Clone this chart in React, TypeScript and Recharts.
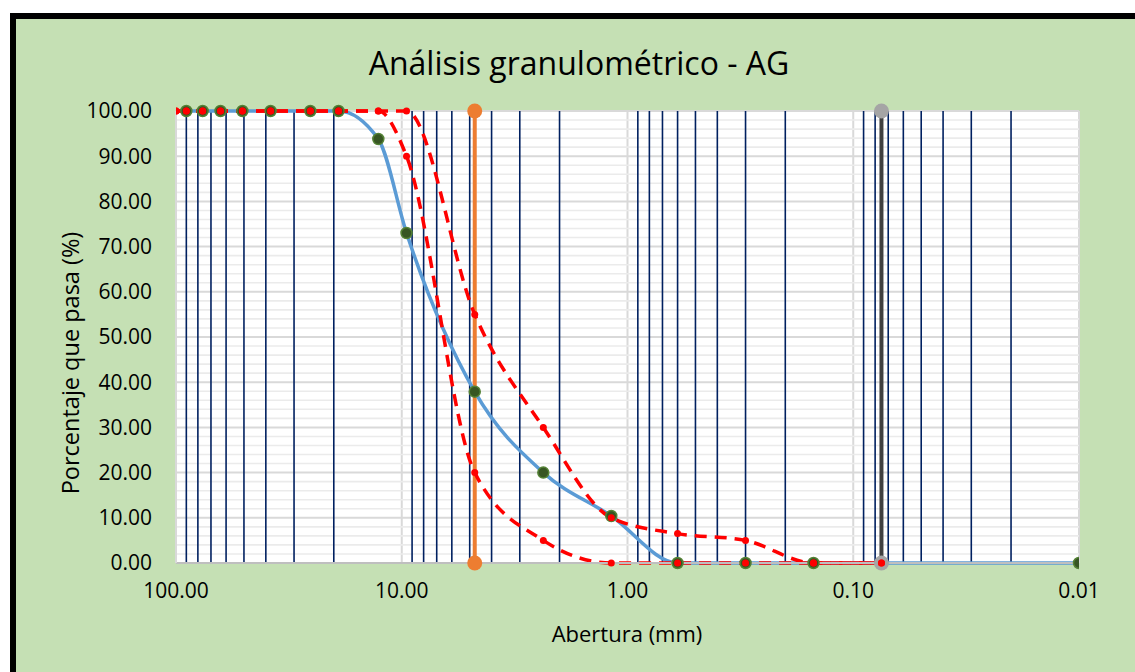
import React from 'react'
import { LineChart, Line, XAxis, YAxis, CartesianGrid, ReferenceLine } from 'recharts'

// muestra (% que pasa)
const sampleSizes = [90, 76.2, 63.5, 50.8, 38.1, 25.4, 19.05, 12.7, 9.525, 4.75, 2.36, 1.18, 0.6, 0.3, 0.15, 0.01]
const samplePassing = [100, 100, 100, 100, 100, 100, 100, 93.8, 73.0, 37.9, 20.0, 10.4, 0, 0, 0, 0]

// limites del huso
const limitSizes = [100, 90, 76.2, 63.5, 50.8, 38.1, 25.4, 19.05, 12.7, 9.525, 4.75, 2.36, 1.18, 0.6, 0.3, 0.15, 0.075]
const upperLimit = [100, 100, 100, 100, 100, 100, 100, 100, 100, 100, 55, 30, 10, 6.5, 5, 0, 0]
const lowerLimit = [100, 100, 100, 100, 100, 100, 100, 100, 100, 90, 20, 5, 0, 0, 0, 0, 0]

// tamiz No. 4 y No. 200
const sieve4 = 4.75
const sieve200 = 0.075
const markerLevels = [0, 100]

const xTicks = [100, 10, 1, 0.1, 0.01]
const yTicks = [0, 10, 20, 30, 40, 50, 60, 70, 80, 90, 100]
const minorX = [90, 80, 70, 60, 50, 40, 30, 20, 9, 8, 7, 6, 5, 4, 3, 2, 0.9, 0.8, 0.7, 0.6, 0.5, 0.4, 0.3, 0.2,
  0.09, 0.08, 0.07, 0.06, 0.05, 0.04, 0.03, 0.02]
const minorY = [2, 4, 6, 8, 12, 14, 16, 18, 22, 24, 26, 28, 32, 34, 36, 38, 42, 44, 46, 48, 52, 54, 56, 58,
  62, 64, 66, 68, 72, 74, 76, 78, 82, 84, 86, 88, 92, 94, 96, 98]

const sample = sampleSizes.map((x, i) => ({ x, y: samplePassing[i] }))
const upper = limitSizes.map((x, i) => ({ x, y: upperLimit[i] }))
const lower = limitSizes.map((x, i) => ({ x, y: lowerLimit[i] }))
const line4 = markerLevels.map((y) => ({ x: sieve4, y }))
const line200 = markerLevels.map((y) => ({ x: sieve200, y }))

const font = '"Open Sans", sans-serif'
const tickStyle = { fontSize: 21, fill: '#000', fontFamily: font }

export default function App() {
  return (
    <div style={{ position: 'absolute', left: 0, top: 0, width: 1135, height: 672, overflow: 'hidden', background: '#fff', fontFamily: font }}>
      <div style={{ position: 'absolute', left: 10, top: 13, width: 1200, height: 720, border: '6px solid #000', background: '#C5E0B4' }} />
      <div style={{ position: 'absolute', left: 0, top: 0 }}>
        <LineChart width={1135} height={672} margin={{ top: 111, right: 56, bottom: 59, left: 76 }}>
          <CartesianGrid fill="#fff" stroke="#D9D9D9" strokeWidth={2} />
          {minorY.map((v) => (
            <ReferenceLine key={'h' + v} y={v} stroke="#EBEBEB" strokeWidth={1.6} />
          ))}
          {minorX.map((v) => (
            <ReferenceLine key={'v' + v} x={v} stroke="#002060" strokeWidth={1.6} />
          ))}
          <XAxis
            dataKey="x"
            type="number"
            scale="log"
            domain={[0.01, 100]}
            ticks={xTicks}
            reversed
            allowDataOverflow
            height={50}
            tickLine={false}
            tickMargin={14}
            axisLine={{ stroke: '#BFBFBF', strokeWidth: 2 }}
            tick={tickStyle}
            tickFormatter={(v) => Number(v).toFixed(2)}
          />
          <YAxis
            dataKey="y"
            type="number"
            domain={[0, 100]}
            ticks={yTicks}
            width={100}
            tickLine={false}
            tickMargin={18}
            axisLine={{ stroke: '#D9D9D9', strokeWidth: 2 }}
            tick={tickStyle}
            tickFormatter={(v) => Number(v).toFixed(2)}
          />
          <Line data={line4} dataKey="y" type="linear" stroke="#ED7D31" strokeWidth={4}
            dot={{ r: 7.5, fill: '#ED7D31', stroke: 'none' }} isAnimationActive={false} />
          <Line data={line200} dataKey="y" type="linear" stroke="#404040" strokeWidth={4}
            dot={{ r: 7.5, fill: '#A5A5A5', stroke: 'none' }} isAnimationActive={false} />
          <Line data={sample} dataKey="y" type="monotone" stroke="#5B9BD5" strokeWidth={3.5}
            dot={{ r: 5.5, fill: '#375623', stroke: '#548235', strokeWidth: 1.5 }} isAnimationActive={false} />
          <Line data={upper} dataKey="y" type="monotone" stroke="#FF0000" strokeWidth={3.5} strokeDasharray="12 8"
            dot={{ r: 3.5, fill: '#FF0000', stroke: 'none', strokeDasharray: '' }} isAnimationActive={false} />
          <Line data={lower} dataKey="y" type="monotone" stroke="#FF0000" strokeWidth={3.5} strokeDasharray="12 8"
            dot={{ r: 3.5, fill: '#FF0000', stroke: 'none', strokeDasharray: '' }} isAnimationActive={false} />
        </LineChart>
      </div>
      <div style={{ position: 'absolute', left: 579, top: 62, transform: 'translate(-50%, -50%)', fontSize: 32, whiteSpace: 'nowrap', color: '#000' }}>
        Análisis granulométrico - AG
      </div>
      <div style={{ position: 'absolute', left: 70, top: 363, transform: 'translate(-50%, -50%) rotate(-90deg)', fontSize: 23.5, whiteSpace: 'nowrap', color: '#000' }}>
        Porcentaje que pasa (%)
      </div>
      <div style={{ position: 'absolute', left: 627, top: 633, transform: 'translate(-50%, -50%)', fontSize: 22, whiteSpace: 'nowrap', color: '#000' }}>
        Abertura (mm)
      </div>
    </div>
  )
}
